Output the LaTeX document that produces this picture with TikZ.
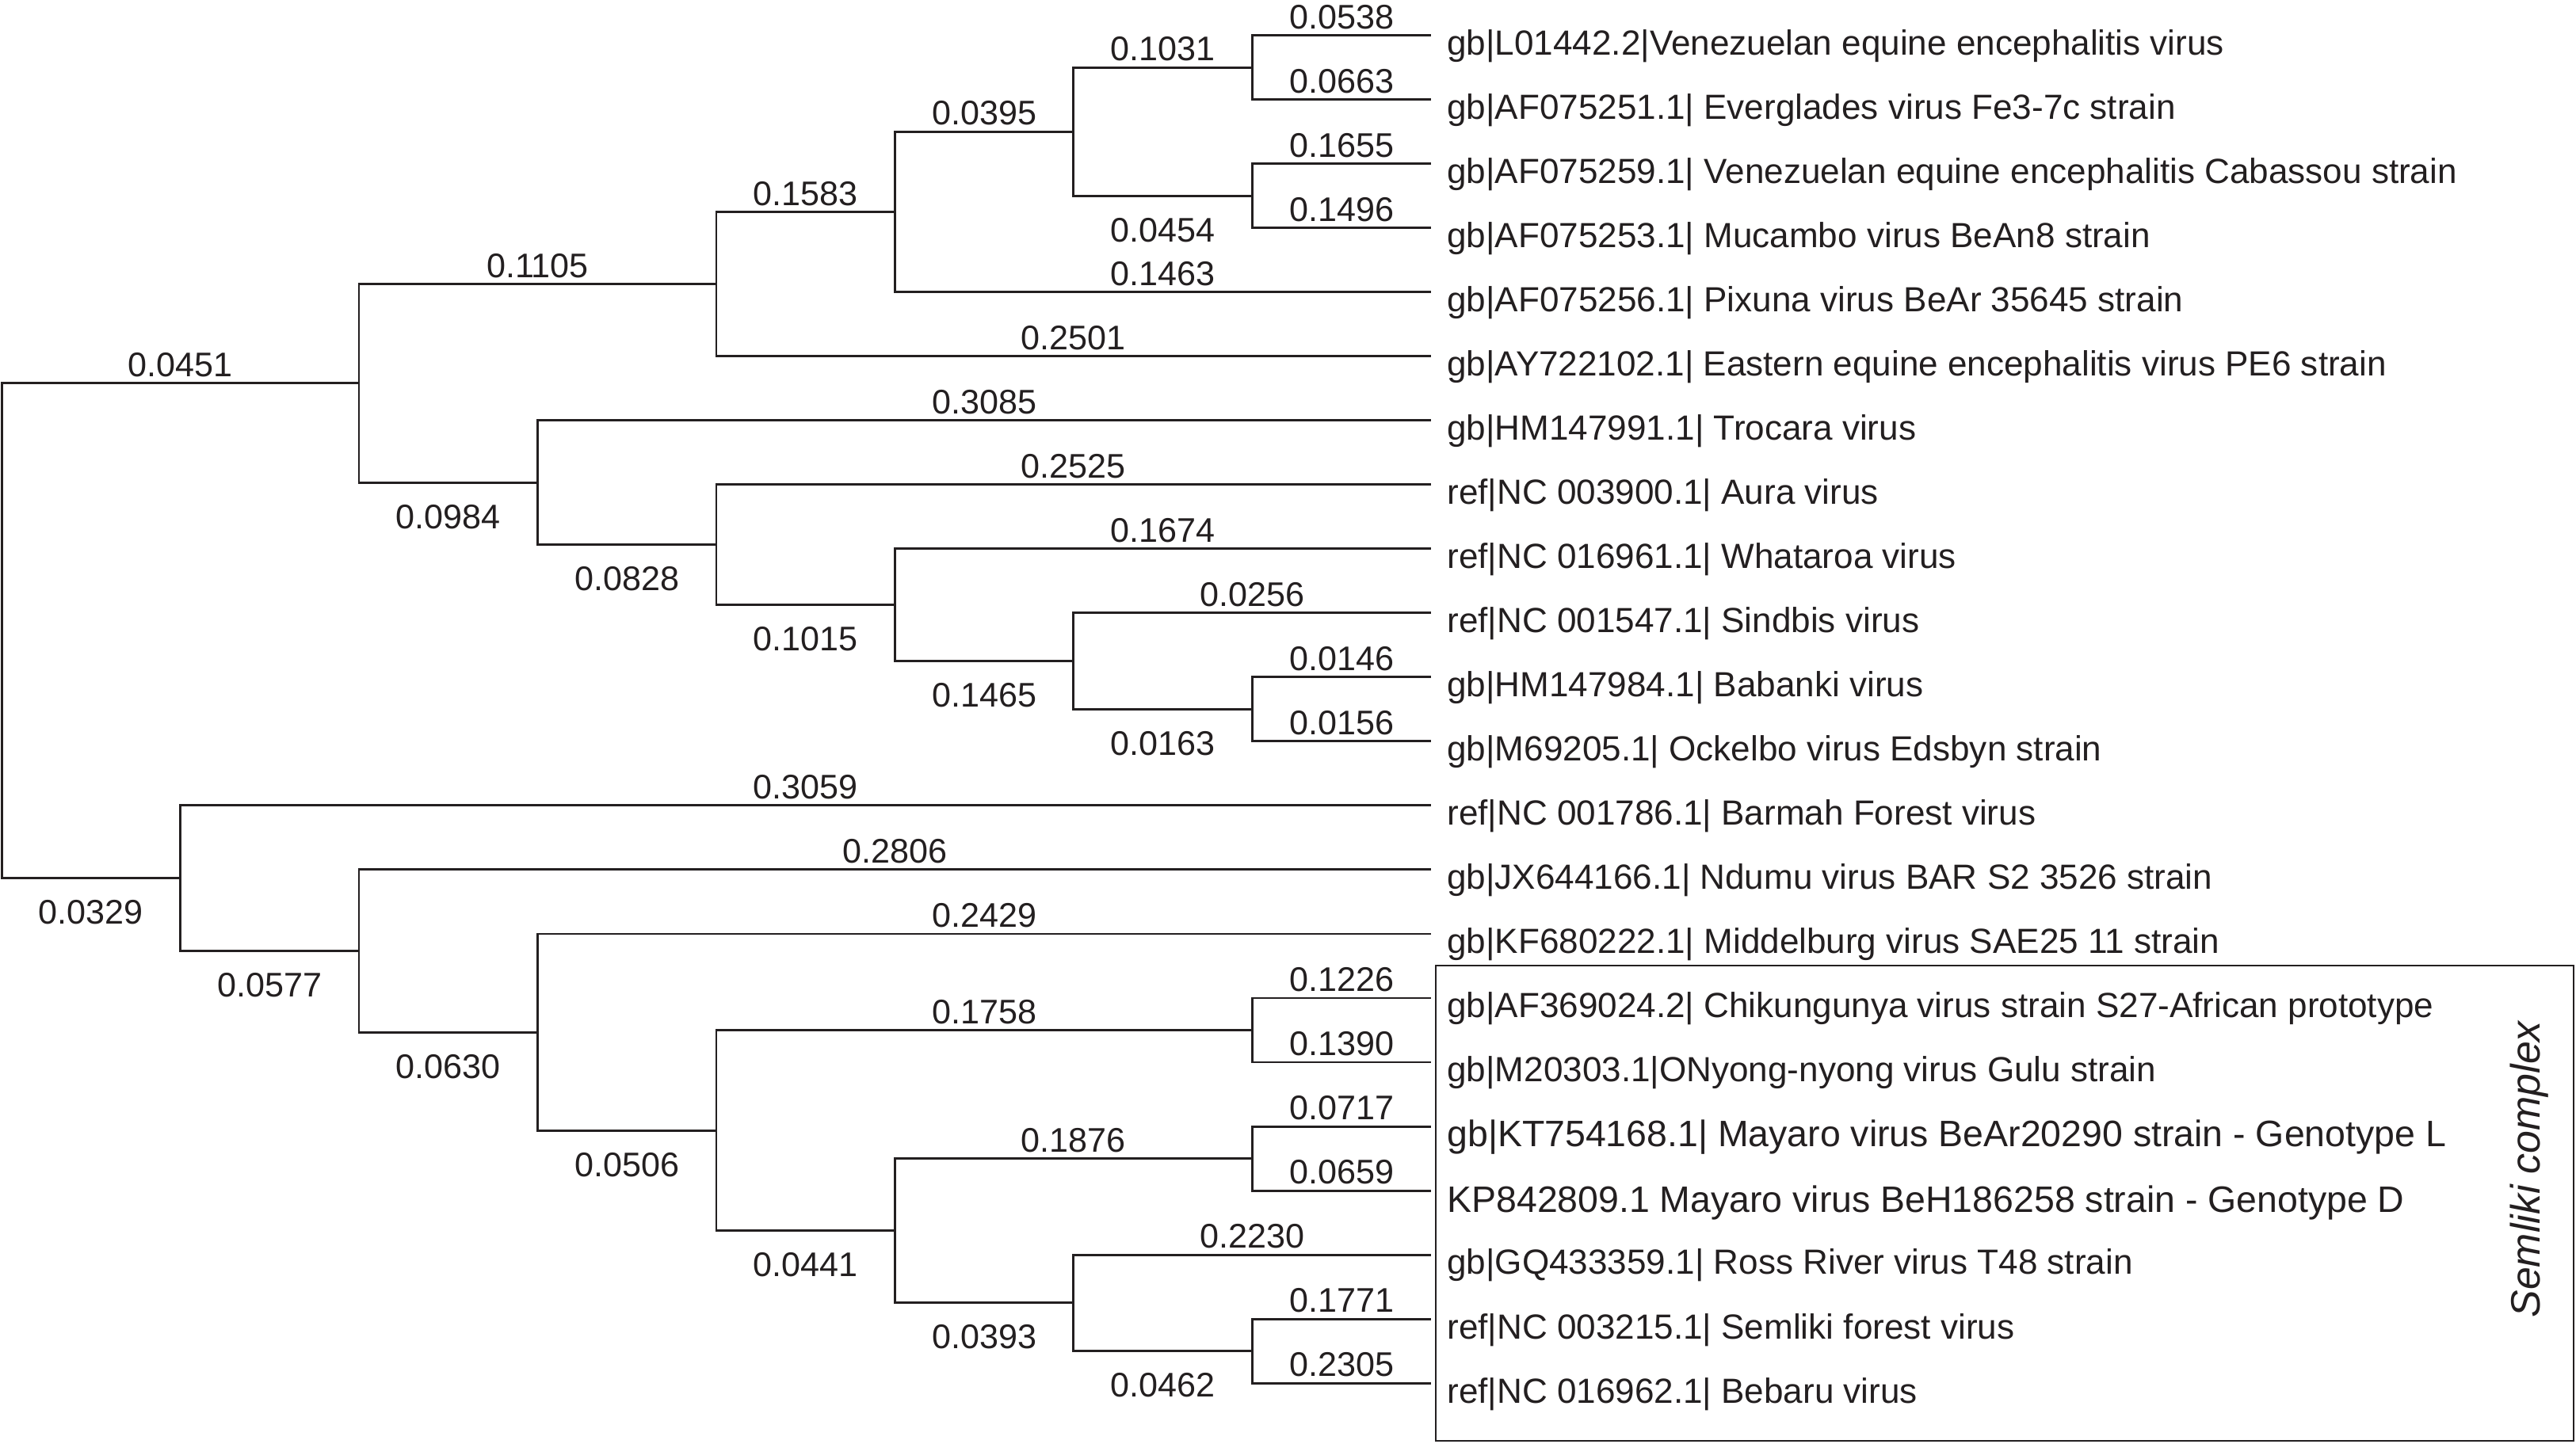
\documentclass[tikz,border=0pt]{standalone}
\usepackage{fontspec}
\setmainfont{Liberation Sans}
\definecolor{ink}{HTML}{231F20}
\newcommand\leaffnt{\fontsize{21.25}{24}\selectfont}
\newcommand\bigleaffnt{\fontsize{22.4}{24}\selectfont}
\newcommand\labfnt{\fontsize{20.8}{24}\selectfont}
\begin{document}
\begin{tikzpicture}[x=1pt,y=-1pt,
  br/.style={line width=1.4pt,draw=ink},
  labA/.style={font=\labfnt,text=ink,anchor=base,yshift=4pt,inner sep=0pt,pos=0.75},
  labB/.style={font=\labfnt,text=ink,anchor=base,yshift=-28pt,inner sep=0pt,pos=0.75},
  leaf/.style={font=\leaffnt,text=ink,anchor=base west,inner sep=0pt},
  bigleaf/.style={leaf,font=\bigleaffnt},
  boxline/.style={line width=1.2pt,draw=ink}]
\useasboundingbox (0,0) rectangle (1568,879);
% internal nodes
\coordinate (root) at (1,384.07);
\coordinate (A) at (218.5,233.39);
\coordinate (B) at (436,172.94);
\coordinate (D) at (544.75,128.97);
\coordinate (E) at (653.5,80.12);
\coordinate (F) at (762.25,41.04);
\coordinate (G) at (762.25,119.20);
\coordinate (C) at (327.25,293.84);
\coordinate (H) at (436,331.70);
\coordinate (I) at (544.75,368.34);
\coordinate (J) at (653.5,402.53);
\coordinate (K) at (762.25,431.84);
\coordinate (L) at (109.75,534.74);
\coordinate (M) at (218.5,579.01);
\coordinate (N) at (327.25,628.47);
\coordinate (O) at (436,688.31);
\coordinate (P) at (762.25,627.24);
\coordinate (Q) at (544.75,749.37);
\coordinate (R) at (762.25,705.40);
\coordinate (S) at (653.5,793.33);
\coordinate (T) at (762.25,822.64);
% leaves
\coordinate (l0) at (871,21.50);
\coordinate (l1) at (871,60.58);
\coordinate (l2) at (871,99.66);
\coordinate (l3) at (871,138.74);
\coordinate (l4) at (871,177.82);
\coordinate (l5) at (871,216.90);
\coordinate (l6) at (871,255.98);
\coordinate (l7) at (871,295.06);
\coordinate (l8) at (871,334.14);
\coordinate (l9) at (871,373.22);
\coordinate (l10) at (871,412.30);
\coordinate (l11) at (871,451.38);
\coordinate (l12) at (871,490.46);
\coordinate (l13) at (871,529.54);
\coordinate (l14) at (871,568.62);
\coordinate (l15) at (871,607.70);
\coordinate (l16) at (871,646.78);
\coordinate (l17) at (871,685.86);
\coordinate (l18) at (871,724.94);
\coordinate (l19) at (871,764.02);
\coordinate (l20) at (871,803.10);
\coordinate (l21) at (871,842.18);
\node[leaf] (t0) at (880.7,33.50) {gb|L01442.2|Venezuelan equine encephalitis virus};
\node[leaf] (t1) at (880.7,72.58) {gb|AF075251.1| Everglades virus Fe3-7c strain};
\node[leaf] (t2) at (880.7,111.66) {gb|AF075259.1| Venezuelan equine encephalitis Cabassou strain};
\node[leaf] (t3) at (880.7,150.74) {gb|AF075253.1| Mucambo virus BeAn8 strain};
\node[leaf] (t4) at (880.7,189.82) {gb|AF075256.1| Pixuna virus BeAr 35645 strain};
\node[leaf] (t5) at (880.7,228.90) {gb|AY722102.1| Eastern equine encephalitis virus PE6 strain};
\node[leaf] (t6) at (880.7,267.98) {gb|HM147991.1| Trocara virus};
\node[leaf] (t7) at (880.7,307.06) {ref|NC 003900.1| Aura virus};
\node[leaf] (t8) at (880.7,346.14) {ref|NC 016961.1| Whataroa virus};
\node[leaf] (t9) at (880.7,385.22) {ref|NC 001547.1| Sindbis virus};
\node[leaf] (t10) at (880.7,424.30) {gb|HM147984.1| Babanki virus};
\node[leaf] (t11) at (880.7,463.38) {gb|M69205.1| Ockelbo virus Edsbyn strain};
\node[leaf] (t12) at (880.7,502.46) {ref|NC 001786.1| Barmah Forest virus};
\node[leaf] (t13) at (880.7,541.54) {gb|JX644166.1| Ndumu virus BAR S2 3526 strain};
\node[leaf] (t14) at (880.7,580.62) {gb|KF680222.1| Middelburg virus SAE25 11 strain};
\node[leaf] (t15) at (880.7,619.70) {gb|AF369024.2| Chikungunya virus strain S27-African prototype};
\node[leaf] (t16) at (880.7,658.78) {gb|M20303.1|ONyong-nyong virus Gulu strain};
\node[bigleaf] (t17) at (880.7,698.36) {gb|KT754168.1| Mayaro virus BeAr20290 strain - Genotype L};
\node[bigleaf] (t18) at (880.7,737.94) {KP842809.1 Mayaro virus BeH186258 strain - Genotype D};
\node[leaf] (t19) at (880.7,776.02) {gb|GQ433359.1| Ross River virus T48 strain};
\node[leaf] (t20) at (880.7,815.10) {ref|NC 003215.1| Semliki forest virus};
\node[leaf] (t21) at (880.7,854.18) {ref|NC 016962.1| Bebaru virus};
% branches
\draw[br] (root) |- (A) node[labA] {0.0451};
\draw[br] (root) |- (L) node[labB] {0.0329};
\draw[br] (A) |- (B) node[labA] {0.1105};
\draw[br] (A) |- (C) node[labB] {0.0984};
\draw[br] (B) |- (D) node[labA] {0.1583};
\draw[br] (B) |- (l5) node[labA] {0.2501};
\draw[br] (D) |- (E) node[labA] {0.0395};
\draw[br] (D) |- (l4) node[labA] {0.1463};
\draw[br] (E) |- (F) node[labA] {0.1031};
\draw[br] (E) |- (G) node[labB] {0.0454};
\draw[br] (F) |- (l0) node[labA] {0.0538};
\draw[br] (F) |- (l1) node[labA] {0.0663};
\draw[br] (G) |- (l2) node[labA] {0.1655};
\draw[br] (G) |- (l3) node[labA] {0.1496};
\draw[br] (C) |- (l6) node[labA] {0.3085};
\draw[br] (C) |- (H) node[labB] {0.0828};
\draw[br] (H) |- (l7) node[labA] {0.2525};
\draw[br] (H) |- (I) node[labB] {0.1015};
\draw[br] (I) |- (l8) node[labA] {0.1674};
\draw[br] (I) |- (J) node[labB] {0.1465};
\draw[br] (J) |- (l9) node[labA] {0.0256};
\draw[br] (J) |- (K) node[labB] {0.0163};
\draw[br] (K) |- (l10) node[labA] {0.0146};
\draw[br] (K) |- (l11) node[labA] {0.0156};
\draw[br] (L) |- (l12) node[labA] {0.3059};
\draw[br] (L) |- (M) node[labB] {0.0577};
\draw[br] (M) |- (l13) node[labA] {0.2806};
\draw[br] (M) |- (N) node[labB] {0.0630};
\draw[br] (N) |- (l14) node[labA] {0.2429};
\draw[br] (N) |- (O) node[labB] {0.0506};
\draw[br] (O) |- (P) node[labA] {0.1758};
\draw[br] (O) |- (Q) node[labB] {0.0441};
\draw[br] (P) |- (l15) node[labA] {0.1226};
\draw[br] (P) |- (l16) node[labA] {0.1390};
\draw[br] (Q) |- (R) node[labA] {0.1876};
\draw[br] (Q) |- (S) node[labB] {0.0393};
\draw[br] (R) |- (l17) node[labA] {0.0717};
\draw[br] (R) |- (l18) node[labA] {0.0659};
\draw[br] (S) |- (l19) node[labA] {0.2230};
\draw[br] (S) |- (T) node[labB] {0.0462};
\draw[br] (T) |- (l20) node[labA] {0.1771};
\draw[br] (T) |- (l21) node[labA] {0.2305};
% Semliki complex box
\draw[boxline] (873.9,588) rectangle (1566.5,877.2);
\node[rotate=90,anchor=base,inner sep=0pt,text=ink,font=\itshape\fontsize{25}{30}\selectfont] (semliki) at (1546,712) {Semliki complex};
\end{tikzpicture}
\end{document}
